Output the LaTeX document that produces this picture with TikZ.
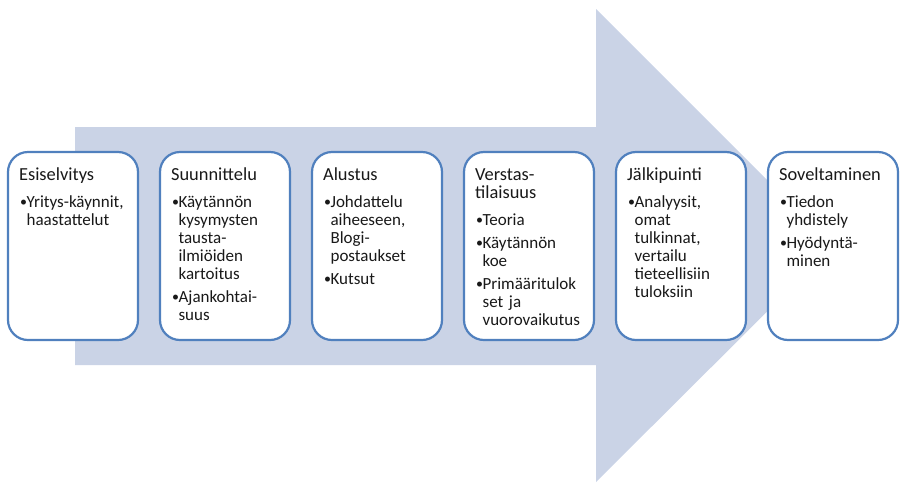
\documentclass[tikz,border=0pt]{standalone}
\usepackage{fontspec}
\setmainfont{Carlito}
\usetikzlibrary{calc}

\definecolor{arrowfill}{HTML}{CAD3E6}
\definecolor{boxline}{HTML}{5080BE}

% heading of a step, followed by the gap to the first bullet
\newcommand{\steptitle}[1]{{\fontsize{18.4}{18}\selectfont #1\par}\vspace{9pt}}
% small bullet mark
\newcommand{\stepdot}{\raisebox{1pt}{\fontsize{14}{14}\selectfont\textbullet}}
% one bullet with hanging indent; lines are broken with \newline
\newcommand{\stepitem}[1]{\hangindent=7.5pt\hangafter=1\noindent\hspace{1pt}\makebox[6.5pt][l]{\stepdot}#1\par\vspace{5pt}}

\tikzset{
  stepbox/.style={draw=boxline, line width=2.2pt, fill=white, rounded corners=20pt,
    minimum width=130pt, minimum height=188pt, inner sep=0pt},
  steptext/.style={anchor=base west, text width=126pt, inner sep=0pt,
    font=\fontsize{17}{18}\selectfont, text=black!90},
}

\begin{document}
\begin{tikzpicture}[x=1pt,y=-1pt]
\useasboundingbox (0,0) rectangle (900,483);

% large block arrow behind the steps
\fill[arrowfill] (75,127) -- (596,127) -- (596,9) -- (833,246) -- (596,482)
  -- (596,365) -- (75,365) -- cycle;

% step boxes
\node[stepbox] (b1) at (73,246) {};
\node[stepbox] (b2) at (225,246) {};
\node[stepbox] (b3) at (377,246) {};
\node[stepbox] (b4) at (529,246) {};
\node[stepbox] (b5) at (681,246) {};
\node[stepbox] (b6) at (833,246) {};

% step contents
\node[steptext] (t1) at ($(b1.north west)+(12,30)$) {%
  \steptitle{Esiselvitys}%
  \stepitem{Yritys-käynnit,\newline haastattelut}};

\node[steptext] (t2) at ($(b2.north west)+(12,30)$) {%
  \steptitle{Suunnittelu}%
  \stepitem{Käytännön\newline kysymysten\newline tausta-\newline ilmiöiden\newline kartoitus}%
  \stepitem{Ajankohtai-\newline suus}};

\node[steptext] (t3) at ($(b3.north west)+(12,30)$) {%
  \steptitle{Alustus}%
  \stepitem{Johdattelu\newline aiheeseen,\newline Blogi-\newline postaukset}%
  \stepitem{Kutsut}};

\node[steptext] (t4) at ($(b4.north west)+(12,30)$) {%
  \steptitle{Verstas-\newline tilaisuus}%
  \stepitem{Teoria}%
  \stepitem{Käytännön\newline koe}%
  \stepitem{Primääritulok\newline set ja\newline vuorovaikutus}};

\node[steptext] (t5) at ($(b5.north west)+(12,30)$) {%
  \steptitle{Jälkipuinti}%
  \stepitem{Analyysit,\newline omat\newline tulkinnat,\newline vertailu\newline tieteellisiin\newline tuloksiin}};

\node[steptext] (t6) at ($(b6.north west)+(12,30)$) {%
  \steptitle{Soveltaminen}%
  \stepitem{Tiedon\newline yhdistely}%
  \stepitem{Hyödyntä-\newline minen}};
\end{tikzpicture}
\end{document}
